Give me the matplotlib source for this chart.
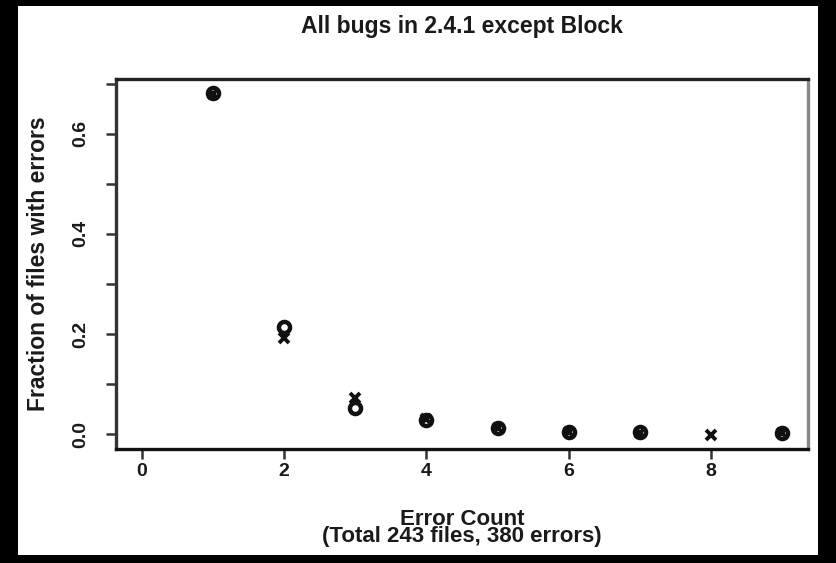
import numpy as np
import matplotlib
matplotlib.use("Agg")
import matplotlib.pyplot as plt
from matplotlib.patches import Rectangle

# dados
contagem = [1, 2, 3, 4, 5, 6, 7, 8, 9]
observado = [0.682, 0.215, 0.052, 0.028, 0.012, 0.004, 0.004, np.nan, 0.003]
previsto = [0.680, 0.192, 0.073, 0.030, 0.013, 0.004, 0.002, -0.001, 0.002]

x_ticks = [0, 2, 4, 6, 8]
y_ticks = [0.0, 0.2, 0.4, 0.6]
y_labels = ["0.0", "0.2", "0.4", "0.6"]

titulo = "All bugs in 2.4.1 except Block"
rotulo_x = "Error Count\n(Total 243 files, 380 errors)"
rotulo_y = "Fraction of files with errors"


def main():
    plt.rcParams["font.family"] = ["Liberation Sans", "DejaVu Sans"]
    plt.rcParams["font.weight"] = "bold"
    plt.rcParams["axes.titleweight"] = "bold"
    plt.rcParams["axes.labelweight"] = "bold"
    plt.rcParams["text.color"] = "#1a1a1a"
    plt.rcParams["axes.labelcolor"] = "#1a1a1a"
    plt.rcParams["xtick.labelcolor"] = "#1a1a1a"
    plt.rcParams["ytick.labelcolor"] = "#1a1a1a"
    fig = plt.figure(figsize=(8.36, 5.63), dpi=100, facecolor="black")
    W, H = 836, 563

    # moldura branca dentro da borda preta
    fig.patches.append(Rectangle((18 / W, 8 / H), 800 / W, 549 / H,
                                 transform=fig.transFigure, facecolor="white",
                                 edgecolor="none", zorder=-5))

    ax = fig.add_axes([116 / W, (H - 449) / H, 692 / W, 370 / H])
    ax.set_zorder(2)
    ax.set_facecolor("white")

    ax.plot(contagem, observado, linestyle="none", marker="o", markersize=8,
            markerfacecolor="none", markeredgecolor="#111111", markeredgewidth=3.2)
    ax.plot(contagem, previsto, linestyle="none", marker="x", markersize=7,
            color="#111111", markeredgewidth=2.8)

    ax.set_xlim(-0.36, 9.36)
    ax.set_ylim(-0.029, 0.709)

    ax.set_xticks(x_ticks)
    ax.set_xticklabels([str(t) for t in x_ticks], fontsize=14)
    ax.set_yticks(y_ticks)
    ax.set_yticklabels(y_labels, fontsize=14, rotation=90, va="center")
    ax.set_yticks([0.1, 0.3, 0.5, 0.7], minor=True)
    ax.tick_params(axis="both", which="both", direction="out", length=7,
                   width=1.8, color="#333333")
    ax.tick_params(axis="x", pad=3)
    ax.tick_params(axis="y", pad=12)

    for lado in ["left", "bottom", "top", "right"]:
        ax.spines[lado].set_linewidth(2.4)
    ax.spines["left"].set_color("#333333")
    ax.spines["right"].set_color("#888888")
    ax.spines["top"].set_color("#222222")
    ax.spines["bottom"].set_color("#111111")

    ax.set_title(titulo, fontsize=16.5, pad=33)
    ax.set_xlabel(rotulo_x, fontsize=16, linespacing=0.75, labelpad=21)
    ax.set_ylabel(rotulo_y, fontsize=16.5, labelpad=16)

    fig.savefig("out.png", dpi=100, facecolor=fig.get_facecolor())
    plt.close(fig)


if __name__ == "__main__":
    main()
